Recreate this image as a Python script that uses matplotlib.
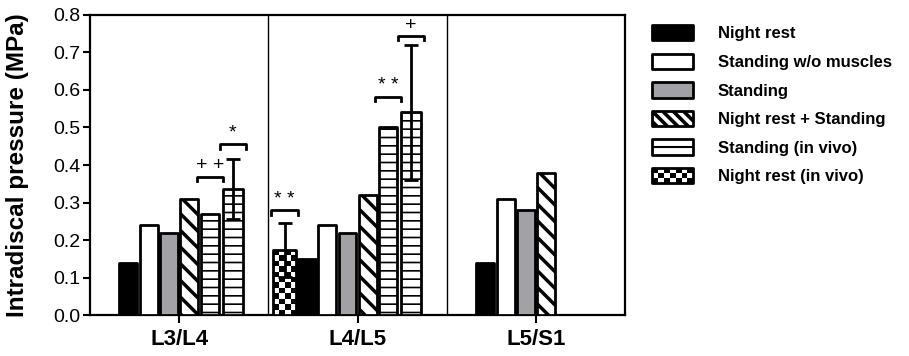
import matplotlib
matplotlib.use("Agg")
import matplotlib.pyplot as plt
import numpy as np
from matplotlib.patches import Patch, Rectangle
from matplotlib.lines import Line2D
from matplotlib.legend_handler import HandlerBase

plt.rcParams['font.family'] = ['Liberation Sans', 'DejaVu Sans']
plt.rcParams['hatch.linewidth'] = 1.0

# Data (MPa)
segmente = ['L3/L4', 'L4/L5', 'L5/S1']
night_rest = [0.14, 0.15, 0.14]
standing_wo = [0.24, 0.24, 0.31]
standing = [0.22, 0.22, 0.28]
night_standing = [0.31, 0.32, 0.38]
standing_model = [0.27, 0.50, np.nan]
vivo_standing = [0.335, 0.54, np.nan]
vivo_standing_err = [0.08, 0.18, np.nan]
vivo_night = [np.nan, 0.173, np.nan]
vivo_night_err = [np.nan, 0.072, np.nan]

legend_labels = ['Night rest', 'Standing w/o muscles', 'Standing',
                 'Night rest + Standing', 'Standing (in vivo)', 'Night rest (in vivo)']

# significance: (segment, bar key, level, text)
signifikans = [(0, 'model', 0.369, '+ +'),
               (0, 'vivo', 0.456, '*'),
               (1, 'night', 0.280, '* *'),
               (1, 'model', 0.582, '* *'),
               (1, 'vivo', 0.744, '+')]

GRAY = '#a2a2a6'
fig = plt.figure(figsize=(9.09, 3.56), dpi=100)
ax = fig.add_axes([0.099, 0.115, 0.589, 0.843])

x = np.arange(len(segmente))
bar_w = 0.1
step = 0.114
off = {'model': 0.171, 'vivo': 0.30, 'night': -0.41}


def hatch_lw(bars, lw):
    for b in bars:
        if hasattr(b, 'set_hatch_linewidth'):
            b.set_hatch_linewidth(lw)


model = [(night_rest, 'black', None, 1.0),
         (standing_wo, 'white', None, 1.0),
         (standing, GRAY, None, 1.0),
         (night_standing, 'white', '\\\\', 2.5),
         (standing_model, 'white', '--', 1.2)]

for i, (verdier, farge, hatch, hlw) in enumerate(model):
    v = np.array(verdier)
    ok = ~np.isnan(v)
    bars = ax.bar(x[ok] + (i - 2.5) * step, v[ok], bar_w, color=farge,
                  edgecolor='black', linewidth=2, hatch=hatch, zorder=3,
                  joinstyle='round')
    hatch_lw(bars, hlw)

# in vivo standing
v = np.array(vivo_standing)
ok = ~np.isnan(v)
bars = ax.bar(x[ok] + off['vivo'], v[ok], 0.11, color='white', edgecolor='black',
              linewidth=2, hatch='--', zorder=3, joinstyle='round')
hatch_lw(bars, 1.2)
ax.errorbar(x[ok] + off['vivo'], v[ok], yerr=np.array(vivo_standing_err)[ok],
            fmt='none', ecolor='black', elinewidth=2, capsize=5, capthick=2, zorder=5)

# in vivo night rest (checker)
v = np.array(vivo_night)
ok = ~np.isnan(v)
bars = ax.bar(x[ok] + off['night'], v[ok], 0.13, color='white', edgecolor='none', zorder=2)
rutenett = np.indices((12, 4)).sum(axis=0) % 2
for b in bars:
    x0, w, h = b.get_x(), b.get_width(), b.get_height()
    im = ax.imshow(rutenett, cmap='gray', extent=(x0, x0 + w, 0, h), aspect='auto',
                   interpolation='nearest', zorder=3)
    im.set_clip_path(b)
ax.bar(x[ok] + off['night'], v[ok], 0.13, fill=False, edgecolor='black',
       linewidth=2, zorder=4, joinstyle='round')
ax.errorbar(x[ok] + off['night'], v[ok], yerr=np.array(vivo_night_err)[ok],
            fmt='none', ecolor='black', elinewidth=2, capsize=5, capthick=2, zorder=5)

# brackets
for seg, key, niva, tekst in signifikans:
    xc = x[seg] + off[key]
    ax.plot([xc - 0.073, xc - 0.073, xc + 0.073, xc + 0.073],
            [niva - 0.012, niva, niva, niva - 0.012], color='black', lw=2,
            solid_joinstyle='round', zorder=6)
    ax.text(xc, niva + 0.006, tekst, ha='center', va='bottom', fontsize=14, zorder=6)

ax.axvline(0.5, color='black', lw=1)
ax.axvline(1.5, color='black', lw=1)

ax.set_xlim(-0.5, 2.5)
ax.set_ylim(0, 0.8)
ax.set_yticks(np.arange(0, 0.81, 0.1))
ax.set_yticklabels([f'{t:.1f}' for t in np.arange(0, 0.81, 0.1)], fontsize=14)
ax.set_xticks(x)
ax.set_xticklabels(segmente, fontsize=16, fontweight='bold')
ax.tick_params(axis='y', length=5, width=1.5, pad=2)
ax.tick_params(axis='x', length=6, width=1.5, pad=4)
for s in ax.spines.values():
    s.set_linewidth(1.6)
ax.set_ylabel('Intradiscal pressure (MPa)', fontsize=17.5, fontweight='bold', labelpad=6)
ax.yaxis.set_label_coords(-0.113, 0.5)


# legend
class BoksHandler(HandlerBase):
    # draws legend box: 'fill', 'diag', 'hline' or 'checker'
    def __init__(self, kind, color='white'):
        super().__init__()
        self.kind = kind
        self.color = color

    def create_artists(self, legend, orig_handle, xdescent, ydescent, width, height,
                       fontsize, trans):
        x0, y0 = -xdescent, -ydescent
        art = [Rectangle((x0, y0), width, height, facecolor=self.color,
                         edgecolor='none', transform=trans)]
        if self.kind == 'checker':
            nc, nr = 7, 3
            cw, ch = width / nc, height / nr
            for r in range(nr):
                for c in range(nc):
                    if (r + c) % 2 == 0:
                        art.append(Rectangle((x0 + c * cw, y0 + r * ch), cw, ch,
                                             facecolor='black', edgecolor='none',
                                             transform=trans))
        elif self.kind == 'hline':
            art.append(Line2D([x0, x0 + width], [y0 + height / 2] * 2, color='black',
                              lw=1.5, transform=trans))
        elif self.kind == 'diag':
            d = width / 4.0
            for k in range(-1, 5):
                xs = np.array([x0 + k * d, x0 + k * d + height])
                ys = np.array([y0 + height, y0])
                art.append(Line2D(xs, ys, color='black', lw=2.6, transform=trans,
                                  clip_on=True))
        ramme = Rectangle((x0, y0), width, height, fill=False, edgecolor='black',
                          linewidth=2, joinstyle='round', transform=trans)
        for a in art[1:]:
            a.set_clip_path(ramme)
        art.append(ramme)
        return art


proxies = [Patch(label=l) for l in legend_labels]
handlers = [BoksHandler('fill', 'black'), BoksHandler('fill'), BoksHandler('fill', GRAY),
            BoksHandler('diag'), BoksHandler('hline'), BoksHandler('checker')]

fig.legend(proxies, legend_labels, loc='upper left', bbox_to_anchor=(0.717, 0.93),
           frameon=False, prop={'size': 12, 'weight': 'bold'}, handlelength=2.5,
           handleheight=1.05, labelspacing=0.73, handletextpad=1.45, borderpad=0,
           borderaxespad=0, handler_map=dict(zip(proxies, handlers)))

fig.savefig('out.png', dpi=100)
